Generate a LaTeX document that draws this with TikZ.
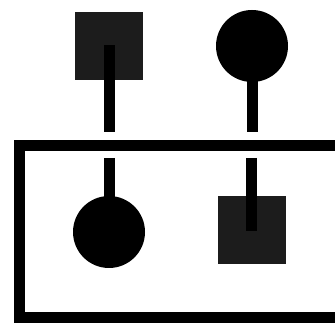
\documentclass[tikz,border=0pt]{standalone}
\definecolor{sqcol}{HTML}{1C1C1C}
\begin{document}
\begin{tikzpicture}[x=1pt,y=-1pt,
  sq/.style={fill=sqcol,draw=none,minimum size=68pt,inner sep=0pt,rectangle},
  ci/.style={fill=black,draw=none,circle,minimum size=72pt,inner sep=0pt},
  stem/.style={line width=11pt,black},
  frame/.style={line width=11pt,black}]
\useasboundingbox (0,0) rectangle (335,323);
\node[sq] (s1) at (109,46.5) {};
\node[ci] (c1) at (252,46) {};
\node[ci] (c2) at (109,232) {};
\node[sq] (s2) at (251.5,230.5) {};
\coordinate (t1) at (109,132);
\coordinate (t2) at (252,132);
\coordinate (b1) at (109,158);
\coordinate (b2) at (251.5,158);
\draw[stem] ([yshift=1pt]s1.center) -- (t1);
\draw[stem] (c1.center) -- (t2);
\draw[stem] (b1) -- (c2.center);
\draw[stem] (b2) -- ([yshift=-1pt]s2.center);
\draw[frame] (345,146) -- (19.5,146) -- (19.5,318) -- (345,318);
\end{tikzpicture}
\end{document}
